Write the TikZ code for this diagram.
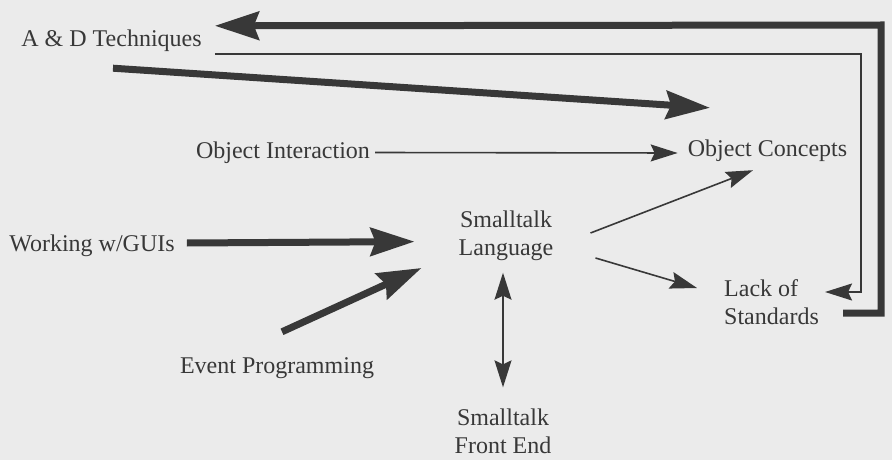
\documentclass[tikz,border=0pt]{standalone}
\usepackage{fontspec}
\setmainfont{Liberation Serif}
\usetikzlibrary{arrows.meta}
\definecolor{bgc}{HTML}{EBEBEB}
\definecolor{ink}{HTML}{383838}
\begin{document}
\begin{tikzpicture}[x=1pt,y=-1pt,
  lbl/.style={inner sep=0pt, text=ink, font=\fontsize{24}{28}\selectfont},
  one/.style={lbl, text height=16pt, text depth=5pt},
  thickarrow/.style={draw=ink, line width=7pt, line join=miter,
     -{Stealth[length=44pt,width=28pt,inset=5pt]}},
  thinarrow/.style={draw=ink, line width=1.6pt, line join=miter,
     -{Stealth[length=27pt,width=17pt,inset=4pt]}},
  dblarrow/.style={draw=ink, line width=1.6pt,
     {Stealth[length=27pt,width=17pt,inset=4pt]}-{Stealth[length=27pt,width=17pt,inset=4pt]}}]
\fill[bgc] (0,0) rectangle (892,460);
\useasboundingbox (0,0) rectangle (892,460);

\node[one] (ad) at (111.5,41.5) {A \& D Techniques};
\node[one] (oi) at (283,152.5) {Object Interaction};
\node[one] (oc) at (767.5,150.5) {Object Concepts};
\node[one] (wg) at (92,245.5) {Working w/GUIs};
\node[one] (ep) at (277,367.5) {Event Programming};
\node[lbl, align=center] (sl) at (506,235.6) {Smalltalk\\Language};
\node[lbl, align=center] (fe) at (503,431) {Smalltalk\\Front End};
\node[lbl, align=left, anchor=west] (los) at (724,302) {Lack of\\Standards};

\coordinate (c1) at (881,25);
\coordinate (c2) at (861,292);

% feedback loop (thick)
\draw[thickarrow] ([xshift=24pt,yshift=-11pt]los.east) -| (c1) -- ([xshift=13pt,yshift=5pt]ad.north east);
% thin loop
\draw[thinarrow] ([xshift=13pt,yshift=-2pt]ad.south east) -| (c2) -- ([xshift=6pt,yshift=10pt]los.east);
% A&D -> Object Concepts
\draw[thickarrow] ([xshift=1.5pt,yshift=-16pt]ad.south) -- ([xshift=-57.5pt,yshift=32pt]oc.north);
% Object Interaction -> Object Concepts
\draw[thinarrow] ([xshift=5pt]oi.east) -- ([xshift=-10pt,yshift=-2.5pt]oc.west);
% Working w/GUIs -> Smalltalk
\draw[thickarrow] ([xshift=12pt,yshift=2.5pt]wg.east) -- ([xshift=-44pt,yshift=-6pt]sl.west);
% Event Programming -> Smalltalk
\draw[thickarrow] ([xshift=5pt,yshift=25pt]ep.north) -- ([xshift=-37pt,yshift=-32.4pt]sl.west);
% Smalltalk -> Object Concepts
\draw[thinarrow] ([xshift=37pt,yshift=2.6pt]sl.east) -- ([xshift=-14.5pt,yshift=-9pt]oc.south);
% Smalltalk -> Lack of Standards
\draw[thinarrow] ([xshift=42pt,yshift=-22.4pt]sl.east) -- ([xshift=-27pt,yshift=14pt]los.west);
% Smalltalk <-> Front End
\draw[dblarrow] ([xshift=-3pt,yshift=-12pt]sl.south) -- ([yshift=21pt]fe.north);
\end{tikzpicture}
\end{document}
